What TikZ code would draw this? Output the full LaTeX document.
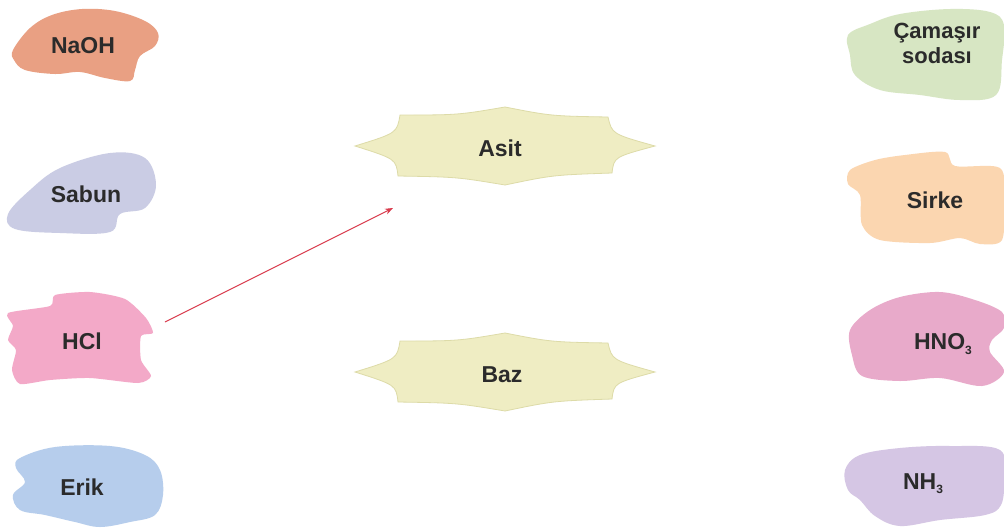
\documentclass[tikz,border=0pt]{standalone}
\usepackage{fontspec}
\setmainfont{Liberation Sans}
\usetikzlibrary{arrows.meta}
\definecolor{cNaOH}{HTML}{E9A083}
\definecolor{cSabun}{HTML}{CACCE4}
\definecolor{cHCl}{HTML}{F3A9C8}
\definecolor{cErik}{HTML}{B6CDEC}
\definecolor{cCama}{HTML}{D7E6C3}
\definecolor{cSirke}{HTML}{FBD6B0}
\definecolor{cHNO}{HTML}{E8AACA}
\definecolor{cNH}{HTML}{D5C6E4}
\definecolor{cStar}{HTML}{EFEDC3}
\definecolor{cStarB}{HTML}{DDDBA8}
\definecolor{cTxt}{HTML}{2B2B2B}
\definecolor{cArrow}{HTML}{D93A4C}
\newcommand{\sub}[1]{\raisebox{-0.35ex}{\fontsize{12}{12}\selectfont #1}}
\tikzset{
  lbl/.style={font=\fontsize{23}{26}\selectfont\bfseries, text=cTxt, align=center, inner sep=1pt},
  blob/.style={fill=#1, draw=none},
  starbox/.style={fill=cStar, draw=cStarB, line width=0.8pt},
  link/.style={draw=cArrow, line width=1pt, -{Stealth[length=8pt,width=6pt]}}
}
\newcommand{\starpath}[1]{%
  \path[starbox, shift={#1}] (-150,0)
    .. controls (-108,-13) .. (-105,-31)
    .. controls (-47,-31) .. (0,-39)
    .. controls (46,-30) .. (103,-29)
    .. controls (107,-12) .. (150,0)
    .. controls (109,11) .. (107,27)
    .. controls (48,29) .. (0,39)
    .. controls (-48,31) .. (-107,30)
    .. controls (-109,13) .. cycle;}
\begin{document}
\begin{tikzpicture}[x=1pt,y=-1pt]
\useasboundingbox[fill=white] (0,0) rectangle (1004,531);
% left blobs
\fill[blob=cNaOH] plot[smooth cycle, tension=0.6] coordinates {(13,50) (30,28) (52,15) (82,9) (115,11) (145,21) (158,33) (155,46) (140,56) (135,70) (130,81) (105,78) (80,72) (55,74) (25,70) (14,60)};
\fill[blob=cSabun] plot[smooth cycle, tension=0.6] coordinates {(8,214) (30,190) (60,168) (110,153) (145,158) (156,185) (145,208) (120,214) (110,232) (60,233) (15,229)};
\fill[blob=cHCl] plot[smooth cycle, tension=0.4] coordinates {(8,313) (50,306) (55,295) (90,292) (125,299) (146,318) (153,333) (141,336) (141,360) (151,376) (138,383) (90,378) (50,380) (20,384) (12,370) (16,350) (8,340) (13,326)};
\fill[blob=cErik] plot[smooth cycle, tension=0.6] coordinates {(20,458) (55,447) (110,446) (145,455) (160,470) (163,495) (155,515) (130,522) (100,527) (75,522) (45,515) (20,510) (13,495) (25,482) (16,468)};
% right blobs
\fill[blob=cCama] plot[smooth cycle, tension=0.6] coordinates {(848,35) (870,24) (900,14) (950,9) (990,12) (1004,25) (1002,60) (996,95) (960,100) (920,95) (880,90) (855,75) (850,55)};
\fill[blob=cSirke] plot[smooth cycle, tension=0.5] coordinates {(850,170) (875,160) (905,155) (945,152) (955,166) (1000,168) (1004,200) (1002,240) (980,244) (960,238) (930,243) (880,240) (862,225) (860,195) (848,184)};
\fill[blob=cHNO] plot[smooth cycle, tension=0.55] coordinates {(850,330) (870,310) (900,297) (940,292) (975,300) (1002,312) (1004,328) (992,340) (990,352) (1004,372) (982,386) (940,378) (900,381) (862,376) (852,355)};
\fill[blob=cNH] plot[smooth cycle, tension=0.6] coordinates {(845,470) (860,455) (900,448) (950,446) (1000,450) (1004,480) (1001,505) (985,515) (940,520) (900,526) (875,516) (860,500) (848,490)};
% stars
\starpath{(505,146)}
\starpath{(505,372)}
% labels
\node[lbl] (naoh) at (83,46) {NaOH};
\node[lbl] (sabun) at (86,194) {Sabun};
\node[lbl] (hcl) at (82,341) {HCl};
\node[lbl] (erik) at (82,487) {Erik};
\node[lbl] (asit) at (500,148) {Asit};
\node[lbl] (baz) at (502,375) {Baz};
\node[lbl, font=\fontsize{22}{25}\selectfont\bfseries] (cama) at (937,43) {Çamaşır\\sodası};
\node[lbl] (sirke) at (935,200) {Sirke};
\node[lbl] (hno) at (943,344) {HNO\sub{3}};
\node[lbl] (nh) at (923,484) {NH\sub{3}};
% arrow
\coordinate (aS) at (165,322);
\coordinate (aE) at (393,208);
\draw[link] (aS) -- (aE);
\end{tikzpicture}
\end{document}
